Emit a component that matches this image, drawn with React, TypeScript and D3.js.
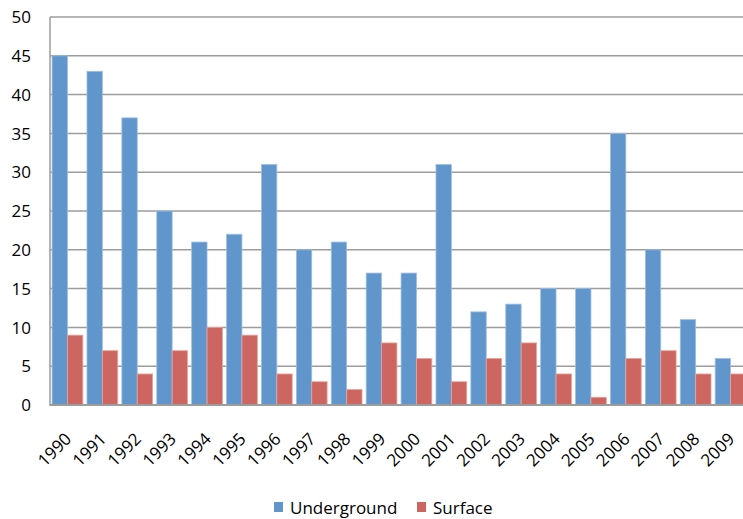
import React from 'react'
import * as d3 from 'd3'

const width = 743
const height = 519
const margin = { top: 17, left: 50, bottom: 114 }
const plotRight = 748 // the plot runs past the right edge of the picture

const years = ['1990', '1991', '1992', '1993', '1994', '1995', '1996', '1997', '1998', '1999',
  '2000', '2001', '2002', '2003', '2004', '2005', '2006', '2007', '2008', '2009']
const underground = [45, 43, 37, 25, 21, 22, 31, 20, 21, 17, 17, 31, 12, 13, 15, 15, 35, 20, 11, 6]
const surface = [9, 7, 4, 7, 10, 9, 4, 3, 2, 8, 6, 3, 6, 8, 4, 1, 6, 7, 4, 4]
const yTicks = [0, 5, 10, 15, 20, 25, 30, 35, 40, 45, 50]
const seriesNames = ['Underground', 'Surface']
const colors = ['#6096CB', '#CD6660']
const edges = ['#9DBFE3', '#E6A5A1']

const font = '"Open Sans", sans-serif'
const fs = 17

const App = () => {
  /* band scale for the years, inner band for the two series */
  const x = d3.scaleBand().domain(years).range([margin.left, plotRight]).paddingInner(0).paddingOuter(0)
  const inner = d3.scaleBand().domain(seriesNames).range([0, x.bandwidth()]).paddingInner(0).paddingOuter(0.135)
  const y = d3.scaleLinear().domain([0, 50]).range([height - margin.bottom, margin.top])

  const rows = years.map((yr, i) => ({ yr, values: [underground[i], surface[i]] }))

  return (
    <svg width={width} height={height} style={{ position: 'absolute', left: 0, top: 0, background: '#fff' }}>
      {/* gridlines */}
      {yTicks.map((t) => (
        <line key={t} x1={margin.left} x2={width} y1={y(t)} y2={y(t)} stroke="#9c9c9c" strokeWidth={1.5} />
      ))}
      {/* bars */}
      {rows.map((r) =>
        r.values.map((v, j) => (
          <rect
            key={r.yr + j}
            x={x(r.yr) + inner(seriesNames[j])}
            y={y(v)}
            width={inner.bandwidth()}
            height={y(0) - y(v)}
            fill={colors[j]}
            stroke={edges[j]}
            strokeWidth={0.8}
          />
        ))
      )}
      {/* axes */}
      <line x1={margin.left} x2={margin.left} y1={y(50)} y2={y(0) + 1} stroke="#9c9c9c" strokeWidth={1.5} />
      <line x1={margin.left} x2={width} y1={y(0)} y2={y(0)} stroke="#9c9c9c" strokeWidth={2} />
      {/* y labels */}
      {yTicks.map((t) => (
        <text key={t} x={31} y={y(t)} dy="0.36em" textAnchor="end" fontSize={fs} fontFamily={font} fill="#000">
          {t}
        </text>
      ))}
      {/* x labels */}
      {years.map((yr) => (
        <text
          key={yr}
          transform={`translate(${x(yr) + x.bandwidth() / 2 + 5}, ${y(0) + 35}) rotate(-45)`}
          textAnchor="end"
          fontSize={fs}
          fontFamily={font}
          fill="#000"
        >
          {yr}
        </text>
      ))}
      {/* legend */}
      {seriesNames.map((s, i) => {
        const lx = i === 0 ? 274 : 417
        return (
          <g key={s}>
            <rect x={lx} y={502} width={9} height={10} fill={colors[i]} />
            <text x={lx + 16} y={514} fontSize={fs} fontFamily={font} fill="#000">
              {s}
            </text>
          </g>
        )
      })}
    </svg>
  )
}

export default App
